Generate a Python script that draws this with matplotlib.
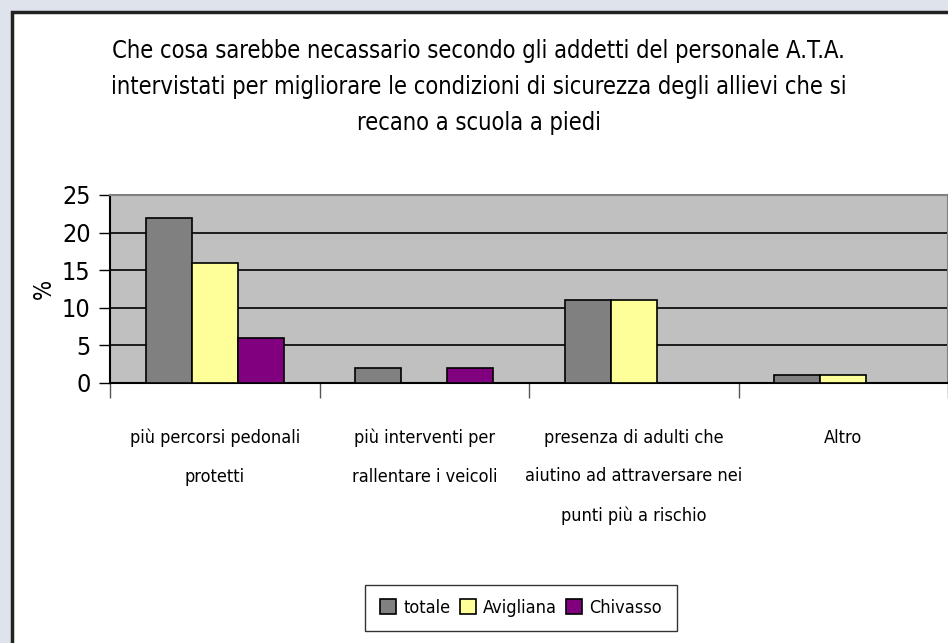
import numpy as np
import matplotlib.pyplot as plt
from matplotlib.patches import Rectangle

# data
categories = ['più percorsi pedonali\nprotetti',
              'più interventi per\nrallentare i veicoli',
              'presenza di adulti che\naiutino ad attraversare nei\npunti più a rischio',
              'Altro']
totale = [22, 2, 11, 1]
avigliana = [16, 0, 11, 1]
chivasso = [6, 2, 0, 0]
series_names = ['totale', 'Avigliana', 'Chivasso']
series_colors = ['#808080', '#ffff99', '#800080']
yticks = [0, 5, 10, 15, 20, 25]
title = ('Che cosa sarebbe necassario secondo gli addetti del personale A.T.A.\n'
         'intervistati per migliorare le condizioni di sicurezza degli allievi che si\n'
         'recano a scuola a piedi')

plt.rcParams['font.family'] = ['DejaVu Sans']
plt.rcParams['font.stretch'] = 'condensed'

fig = plt.figure(figsize=(9.48, 6.43), dpi=100, facecolor='#dfe3ec')

# white chart frame
fig.patches.append(Rectangle((12 / 948, -0.05), 1.0, 1.05 - 12 / 643,
                             transform=fig.transFigure, facecolor='white',
                             edgecolor='#222222', linewidth=2.5, zorder=-5))

ax = fig.add_axes([110 / 948, 1 - 383 / 643, 838 / 948, 188 / 643])
ax.set_facecolor('#c0c0c0')

x = np.arange(len(categories))
w = 0.22
for i, (vals, name, col) in enumerate(zip([totale, avigliana, chivasso], series_names, series_colors)):
    ax.bar(x + (i - 1) * w, vals, w, color=col, edgecolor='black', linewidth=1.2,
           label=name, zorder=3)

ax.set_xlim(-0.5, len(categories) - 0.5)
ax.set_ylim(0, 25)
ax.set_yticks(yticks)
ax.set_yticklabels([str(v) for v in yticks], fontsize=18, fontstretch='condensed')
for v in yticks[1:-1]:
    ax.axhline(v, color='black', linewidth=1.2, zorder=1)

ax.set_xticks(x)
ax.set_xticklabels(categories, fontsize=13, linespacing=2.45, va='top',
                   fontstretch='condensed')
ax.tick_params(axis='x', which='major', length=0, pad=33)
ax.set_xticks(np.arange(len(categories) + 1) - 0.5, minor=True)
ax.tick_params(axis='x', which='minor', length=11, width=1, color='#555555')
ax.tick_params(axis='y', length=8, width=1, color='black', pad=6)

ax.spines['left'].set_color('black')
ax.spines['bottom'].set_color('black')
ax.spines['top'].set_color('#808080')
ax.spines['right'].set_color('#808080')
for s in ax.spines.values():
    s.set_linewidth(1.5)

ax.set_ylabel('%', fontsize=17, labelpad=4)

fig.text(0.505, 1 - 87 / 643, title, ha='center', va='center', fontsize=17,
         linespacing=1.65)

leg = ax.legend(loc='center', bbox_to_anchor=(521 / 948, 1 - 608 / 643),
                bbox_transform=fig.transFigure, ncol=3, fontsize=13,
                frameon=True, fancybox=False, edgecolor='black',
                handlelength=0.9, handleheight=0.9, handletextpad=0.4,
                columnspacing=0.5, borderpad=0.8)
leg.get_frame().set_linewidth(1)

fig.savefig('out.png', dpi=100, facecolor=fig.get_facecolor())
